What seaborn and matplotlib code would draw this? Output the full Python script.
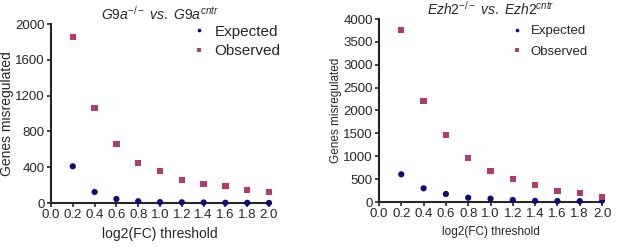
import numpy as np
import pandas as pd
import matplotlib.pyplot as plt
import seaborn as sns

#%% Data
thresholds = [0.2, 0.4, 0.6, 0.8, 1.0, 1.2, 1.4, 1.6, 1.8, 2.0]

g9a_expected = [410, 123, 45, 20, 10, 8, 6, 3, 2, 1]
g9a_observed = [1858, 1061, 663, 450, 361, 260, 212, 186, 149, 123]

ezh2_expected = [605, 299, 175, 94, 72, 44, 25, 20, 20, 30]
ezh2_observed = [3760, 2214, 1464, 955, 678, 496, 378, 247, 203, 116]

#%% Style
sns.set_style('ticks')
plt.rcParams['font.family'] = ['Liberation Sans', 'DejaVu Sans']
plt.rcParams['mathtext.fontset'] = 'custom'
plt.rcParams['mathtext.rm'] = 'Liberation Sans'
plt.rcParams['mathtext.it'] = 'Liberation Sans:italic'

clr_exp = '#0b0b7a'
clr_obs = '#b33a6c'

def make_df(expected, observed):
    return pd.DataFrame({'threshold': thresholds * 2,
                         'genes': expected + observed,
                         'group': ['Expected'] * len(thresholds) + ['Observed'] * len(thresholds)})

fig = plt.figure(figsize=(6.17, 2.49), dpi=100)
ax1 = fig.add_axes([51/617, 1 - 203/249, 218/617, 179/249])
ax2 = fig.add_axes([379/617, 1 - 202/249, 223/617, 183/249])

panels = [(ax1, make_df(g9a_expected, g9a_observed), 2000, 400,
           r'$\mathit{G9a}^{-/-}\ \mathit{vs.}\ \mathit{G9a}^{cntr}$', 10, 9.5, 11, (1.08, 1.03), 0.35),
          (ax2, make_df(ezh2_expected, ezh2_observed), 4000, 500,
           r'$\mathit{Ezh2}^{-/-}\ \mathit{vs.}\ \mathit{Ezh2}^{cntr}$', 8.5, 9.5, 9.5, (0.96, 0.995), 0.6)]

for ax, df, ymax, ystep, title, lblsize, ticksize, legsize, legpos, legspace in panels:
    sns.scatterplot(data=df, x='threshold', y='genes', hue='group', style='group',
                    palette={'Expected': clr_exp, 'Observed': clr_obs},
                    markers={'Expected': 'o', 'Observed': 's'},
                    s=20, linewidth=0, ax=ax, clip_on=False, zorder=3)
    ax.set_xlim(0, 2.0)
    ax.set_ylim(0, ymax)
    ax.set_xticks(np.arange(0, 2.01, 0.2))
    ax.set_xticklabels(['%.1f' % t for t in np.arange(0, 2.01, 0.2)])
    ax.set_yticks(np.arange(0, ymax + 1, ystep))
    ax.tick_params(labelsize=ticksize, length=3, width=1.2, pad=1.5)
    for sp in ['left', 'bottom']:
        ax.spines[sp].set_linewidth(1.5)
    sns.despine(ax=ax)
    ax.set_xlabel('log2(FC) threshold', fontsize=lblsize, labelpad=4)
    ax.set_ylabel('Genes misregulated', fontsize=lblsize, labelpad=1)
    ax.set_title(title, fontsize=10, pad=3)
    ax.legend(loc='upper right', bbox_to_anchor=legpos, frameon=False, fontsize=legsize,
              handletextpad=0.0, markerscale=0.6, borderaxespad=0.0, labelspacing=legspace)

fig.savefig('out.png', dpi=100)
